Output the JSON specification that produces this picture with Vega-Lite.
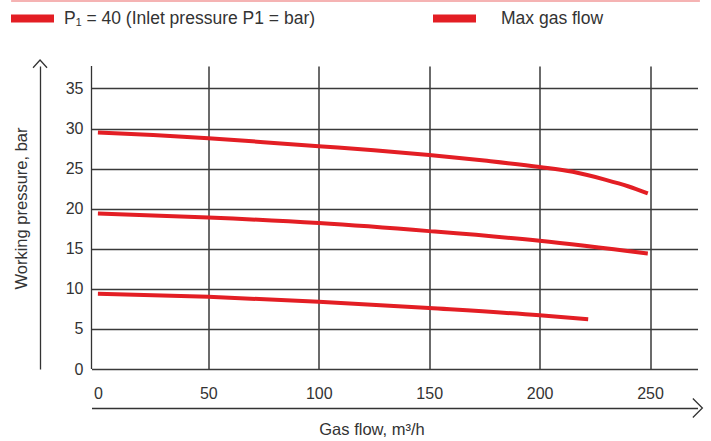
{
  "$schema": "https://vega.github.io/schema/vega-lite/v6.json",
  "width": 606,
  "height": 303,
  "autosize": {"type": "none"},
  "padding": {"left": 91.5, "top": 66, "right": 13.5, "bottom": 72},
  "config": {"view": {"stroke": null}, "font": "Liberation Sans"},
  "layer": [
    {
      "data": {"values": [
        {"c": "A", "x": 0, "y": 29.5}, {"c": "A", "x": 25, "y": 29.2}, {"c": "A", "x": 50, "y": 28.8},
        {"c": "A", "x": 75, "y": 28.3}, {"c": "A", "x": 100, "y": 27.8}, {"c": "A", "x": 125, "y": 27.3},
        {"c": "A", "x": 150, "y": 26.7}, {"c": "A", "x": 175, "y": 26.0}, {"c": "A", "x": 200, "y": 25.2},
        {"c": "A", "x": 215, "y": 24.6}, {"c": "A", "x": 230, "y": 23.6}, {"c": "A", "x": 240, "y": 22.8},
        {"c": "A", "x": 249, "y": 21.9},
        {"c": "B", "x": 0, "y": 19.4}, {"c": "B", "x": 50, "y": 18.9}, {"c": "B", "x": 100, "y": 18.2},
        {"c": "B", "x": 150, "y": 17.2}, {"c": "B", "x": 200, "y": 16.0}, {"c": "B", "x": 249, "y": 14.4},
        {"c": "C", "x": 0, "y": 9.4}, {"c": "C", "x": 50, "y": 9.0}, {"c": "C", "x": 100, "y": 8.4},
        {"c": "C", "x": 150, "y": 7.6}, {"c": "C", "x": 200, "y": 6.7}, {"c": "C", "x": 222, "y": 6.2}
      ]},
      "mark": {"type": "line", "strokeWidth": 4, "interpolate": "monotone"},
      "encoding": {
        "x": {
          "field": "x", "type": "quantitative",
          "scale": {"domain": [-2.9, 271.5], "nice": false, "zero": false},
          "axis": {
            "values": [0, 50, 100, 150, 200, 250],
            "title": "Gas flow, m³/h",
            "grid": true, "gridColor": "#3a3a3a", "gridWidth": 1.5,
            "gridOpacity": {"condition": {"test": "datum.value == 0", "value": 0}, "value": 1},
            "offset": 39, "domain": true, "domainColor": "#333", "domainWidth": 1.3,
            "ticks": false, "tickSize": 0,
            "labelPadding": -10, "labelBaseline": "alphabetic",
            "labelFontSize": 16, "labelColor": "#333", "labelFont": "Liberation Sans",
            "titleFontSize": 16.5, "titleFontWeight": "normal", "titleColor": "#333", "titleFont": "Liberation Sans",
            "titleX": 280, "titleY": 26, "titleBaseline": "alphabetic", "titleAlign": "center"
          }
        },
        "y": {
          "field": "y", "type": "quantitative",
          "scale": {"domain": [0, 37.8], "nice": false, "zero": false},
          "axis": {
            "values": [0, 5, 10, 15, 20, 25, 30, 35],
            "title": "Working pressure, bar",
            "grid": true, "gridColor": "#3a3a3a", "gridWidth": 1.5,
            "offset": 51.5, "domain": true, "domainColor": "#333", "domainWidth": 1.3,
            "ticks": false, "tickSize": 0,
            "labelPadding": -43, "labelFontSize": 16, "labelColor": "#333", "labelFont": "Liberation Sans",
            "titleFontSize": 16.5, "titleFontWeight": "normal", "titleColor": "#333", "titleFont": "Liberation Sans",
            "titleX": -19, "titleY": 142, "titleAngle": -90, "titleBaseline": "middle", "titleAlign": "center"
          }
        },
        "detail": {"field": "c"},
        "color": {
          "datum": "P₁ = 40 (Inlet pressure P1 = bar)",
          "type": "nominal",
          "scale": {"domain": ["P₁ = 40 (Inlet pressure P1 = bar)", "Max gas flow"], "range": ["#e31e24", "#e31e24"]},
          "legend": {
            "orient": "none", "legendX": -80.5, "legendY": -69,
            "direction": "horizontal", "columns": 2, "columnPadding": 117,
            "title": null, "padding": 0,
            "symbolType": "M-1,-0.186H1V0.186H-1Z", "symbolSize": 1849,
            "symbolStrokeWidth": 0, "symbolFillColor": "#e31e24",
            "labelFontSize": 17.5, "labelColor": "#333", "labelFont": "Liberation Sans",
            "labelOffset": 10, "labelLimit": 0,
            "encode": {
              "symbols": {"update": {"fill": {"value": "#e31e24"}, "strokeWidth": {"value": 0}}},
              "labels": {"update": {"dx": {"signal": "datum.value == 'Max gas flow' ? 15 : 0"}}}
            }
          }
        }
      }
    },
    {
      "data": {"values": [{}]},
      "mark": {"type": "rule", "color": "#333", "strokeWidth": 1.3},
      "encoding": {
        "x": {"datum": -2.9, "type": "quantitative"}
      }
    },
    {
      "data": {"values": [{}]},
      "mark": {"type": "rule", "color": "#f29a9a", "strokeWidth": 1.5},
      "encoding": {
        "x": {"datum": -39.3, "type": "quantitative"},
        "x2": {"datum": 272.6},
        "y": {"datum": 45.9, "type": "quantitative"}
      }
    },
    {
      "data": {"values": [{}]},
      "mark": {"type": "point", "shape": "M-1,1.1L0,0L1,1.1", "size": 196, "filled": false, "color": "#333", "strokeWidth": 1.3, "opacity": 1},
      "encoding": {
        "x": {"datum": -26.2, "type": "quantitative"},
        "y": {"datum": 38.55, "type": "quantitative"}
      }
    },
    {
      "data": {"values": [{}]},
      "mark": {"type": "point", "shape": "M-1,-1L0,0L-1,1", "size": 361, "filled": false, "color": "#333", "strokeWidth": 1.3, "opacity": 1},
      "encoding": {
        "x": {"datum": 273.7, "type": "quantitative"},
        "y": {"datum": -4.87, "type": "quantitative"}
      }
    }
  ]
}
